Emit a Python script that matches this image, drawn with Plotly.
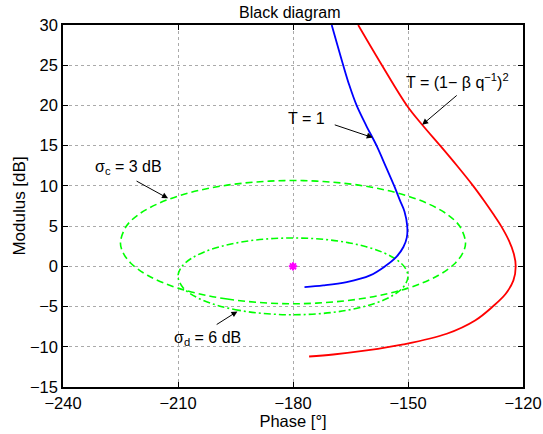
import plotly.graph_objects as go

# sigma_c = 3 dB contour (phase in deg, modulus in dB)
sc_phase = [-180.0, -197.16, -210.0, -217.97, -222.37, -224.44, -225.0, -223.45, -219.90,
            -215.26, -210.0, -204.34, -198.43, -192.37, -186.21, -180.0,
            -173.79, -167.63, -161.57, -155.66, -150.0, -144.74, -140.10, -136.55,
            -135.0, -135.56, -137.63, -142.03, -150.0, -162.84, -180.0]
sc_gain = [-4.65, -4.07, -2.71, -1.11, 0.42, 1.80, 3.01, 5.01, 6.57,
           7.78, 8.73, 9.46, 10.0, 10.37, 10.59, 10.67,
           10.59, 10.37, 10.0, 9.46, 8.73, 7.78, 6.57, 5.01,
           3.01, 1.80, 0.42, -1.11, -2.71, -4.07, -4.65]

# sigma_d = 6 dB contour
sd_phase = [-180.0, -194.05, -203.79, -208.67, -210.0, -209.02, -206.57, -203.15, -199.11,
            -194.64, -189.90, -184.99, -180.0, -175.01, -170.10, -165.36, -160.89,
            -156.85, -153.43, -150.98, -150.0, -151.33, -156.21, -165.95, -180.0]
sd_gain = [-6.02, -5.47, -4.16, -2.65, -1.25, -0.04, 0.97, 1.79, 2.43,
           2.92, 3.26, 3.46, 3.52, 3.46, 3.26, 2.92, 2.43,
           1.79, 0.97, -0.04, -1.25, -2.65, -4.16, -5.47, -6.02]

# T = 1 open-loop locus
t1_phase = [-169.9, -166.9, -165.3, -163.4, -160.9, -158.2, -155.7, -153.6, -152.1, -150.9,
            -150.2, -150.3, -151.2, -153.1, -156.0, -159.9, -166.0, -172.1, -177.0]
t1_gain = [30.0, 25.0, 22.5, 20.0, 17.5, 15.0, 12.3, 10.0, 8.2, 6.8,
           5.0, 3.6, 2.4, 1.14, 0.0, -1.13, -1.96, -2.38, -2.59]

# T = (1 - beta q^-1)^2 open-loop locus
t2_phase = [-163.0, -156.8, -150.3, -146.3, -141.6, -137.2, -133.0, -130.2, -127.8, -125.7,
            -123.7, -122.4, -121.9, -122.5, -124.5, -127.9, -132.5, -139.9, -151.2, -160.8,
            -169.5, -175.8]
t2_gain = [30.0, 25.0, 20.0, 17.6, 15.0, 12.5, 10.0, 8.18, 6.53, 5.0,
           3.22, 1.57, 0.0, -1.75, -3.41, -5.0, -6.73, -8.38, -9.71, -10.46,
           -10.96, -11.21]

crit_phase = [-180]
crit_gain = [0]

x_ticks = [-240, -210, -180, -150, -120]
y_ticks = [-15, -10, -5, 0, 5, 10, 15, 20, 25, 30]

FONT = "Liberation Sans, Arial, sans-serif"
GREEN = "#00ff00"

fig = go.Figure()
fig.add_trace(go.Scatter(x=sc_phase, y=sc_gain, mode="lines", line_shape="spline",
                         line=dict(color=GREEN, width=1.6, dash="7px,4px")))
fig.add_trace(go.Scatter(x=sd_phase, y=sd_gain, mode="lines", line_shape="spline",
                         line=dict(color=GREEN, width=1.6, dash="7px,3px,2px,3px")))
fig.add_trace(go.Scatter(x=t1_phase, y=t1_gain, mode="lines", line_shape="spline",
                         line=dict(color="#0000ff", width=1.8, smoothing=1)))
fig.add_trace(go.Scatter(x=t2_phase, y=t2_gain, mode="lines", line_shape="spline",
                         line=dict(color="#ff0000", width=1.8, smoothing=1)))
fig.add_trace(go.Scatter(x=crit_phase, y=crit_gain, mode="markers",
                         marker=dict(symbol="asterisk-open", size=7, color="#ff00ff",
                                     line=dict(color="#ff00ff", width=2))))

def arrow(x, y, ax, ay):
    fig.add_annotation(x=x, y=y, ax=ax, ay=ay, xref="x", yref="y", axref="x", ayref="y",
                       text="", showarrow=True, arrowhead=2, arrowsize=1.2,
                       arrowwidth=1, arrowcolor="black")

def label(x, y, t):
    fig.add_annotation(x=x, y=y, xref="x", yref="y", text=t, showarrow=False,
                       font=dict(family=FONT, size=16, color="black"))

arrow(-212.6, 8.45, -221.2, 10.7)
label(-223.0, 12.3, "σ<sub>c</sub> = 3 dB")
arrow(-194.5, -5.6, -200.3, -7.35)
label(-202.3, -9.0, "σ<sub>d</sub> = 6 dB")
arrow(-159.2, 16.0, -169.5, 17.65)
label(-176.4, 18.35, "T = 1")
arrow(-146.3, 17.6, -136.9, 21.4)
label(-137.1, 23.0, "T = (1− β q<sup>−1</sup>)<sup>2</sup>")

axis_common = dict(showline=True, linecolor="black", linewidth=1.5, mirror="allticks",
                   ticks="inside", ticklen=5, tickcolor="black", showgrid=True,
                   gridcolor="#aaaaaa", griddash="dot", gridwidth=1, zeroline=False,
                   automargin=False,
                   tickfont=dict(family=FONT, size=16.5, color="black"))

fig.update_layout(
    width=543, height=434,
    margin=dict(l=63, r=20, t=25, b=47),
    plot_bgcolor="white", paper_bgcolor="white",
    showlegend=False,
    title=dict(text="Black diagram", xref="paper", x=0.493, xanchor="center",
               yref="container", y=1 - 12 / 434, yanchor="middle",
               font=dict(family=FONT, size=16, color="black")),
    xaxis=dict(range=[-240, -120], tickvals=x_ticks, ticktext=[str(v).replace("-", "−") for v in x_ticks],
               title=dict(text="Phase [°]", font=dict(family=FONT, size=16.5, color="black"), standoff=0),
               **axis_common),
    yaxis=dict(range=[-15, 30], tickvals=y_ticks, ticktext=[str(v).replace("-", "−") for v in y_ticks],
               title=dict(text="Modulus [dB]", font=dict(family=FONT, size=17, color="black"), standoff=0),
               **axis_common),
)

fig.write_html("out.html", config={"displayModeBar": False},
               post_script="document.body.style.margin='0';")
